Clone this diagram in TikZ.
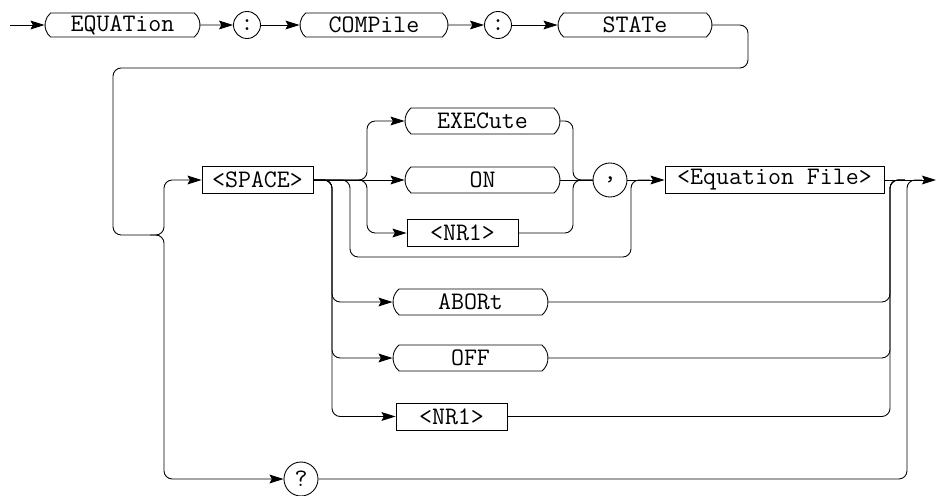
\documentclass[tikz,border=0pt]{standalone}
\usepackage{fontspec}
\usepackage{tikz}
\usetikzlibrary{arrows.meta, shapes.misc, calc}

\begin{document}
\begin{tikzpicture}[x=0.03cm, y=-0.03cm, line width=0.75pt,
  font=\fontsize{21.5}{25}\selectfont\ttfamily,
  keyw/.style={draw, rounded rectangle, rounded rectangle arc length=100, inner sep=0pt, minimum height=0.78cm},
  param/.style={draw, rectangle, inner sep=0pt, minimum height=0.81cm},
  sym/.style={draw, circle, inner sep=0pt},
  flow/.style={rounded corners=7pt},
  arr/.style={-{Stealth[length=12pt, width=7.5pt, inset=2pt]}}]
  \useasboundingbox (0,0) rectangle (937,495);

  \node[keyw, minimum width=4.65cm, minimum height=0.72cm] (equ) at (122.5,25) {EQUATion};
  \node[sym, minimum size=0.81cm] (col1) at (247,25) {:};
  \node[keyw, minimum width=4.44cm, minimum height=0.72cm] (comp) at (374,25) {COMPile};
  \node[sym, minimum size=0.81cm] (col2) at (498,25) {:};
  \node[keyw, minimum width=4.62cm, minimum height=0.72cm] (stat) at (635,25) {STATe};

  \node[param, minimum width=3.33cm] (space) at (257.5,180) {<SPACE>};
  \node[keyw, minimum width=4.65cm] (exec) at (482.5,121) {EXECute};
  \node[keyw, minimum width=4.65cm] (on) at (482.5,180) {ON};
  \node[param, minimum width=3.33cm] (nra) at (462.5,233) {<NR1>};
  \node[sym, minimum size=1.02cm] (comma) at (610,180) {,};
  \node[param, minimum width=6.57cm] (eqf) at (774.5,180) {<Equation File>};

  \node[keyw, minimum width=4.65cm] (abort) at (470.5,302) {ABORt};
  \node[keyw, minimum width=4.65cm] (off) at (470.5,358) {OFF};
  \node[param, minimum width=3.33cm] (nrb) at (451.5,416.5) {<NR1>};
  \node[sym, minimum size=1.02cm] (query) at (301,479) {?};

  \coordinate (in) at (10,25);
  \coordinate (split) at (150,235);
  \coordinate (by) at (650,180);
  \coordinate (m1) at (905,180);
  \coordinate (m2) at (922,180);
  \coordinate (out) at (936,180);

  \draw[arr] (in) -- (equ.west);
  \draw[arr] (equ) -- (col1);
  \draw[arr] (col1) -- (comp);
  \draw[arr] (comp) -- (col2);
  \draw[arr] (col2) -- (stat);
  \draw[flow, arr] (stat.east) -- (748,25) -- (748,68) -- (113,68) -- (113,235) -- (164,235) -- (164,180) -- (space.west);
  \draw[flow, arr] (split) -- (164,235) -- (164,479) -- (query.west);

  \draw[arr] (space.east) -- (on.west);
  \draw[flow, arr] (space.east) -- (367,180) -- (367,121) -- (exec.west);
  \draw[flow, arr] (space.east) -- (367,180) -- (367,233) -- (nra.west);
  \draw[flow] (space.east) -- (350,180) -- (350,257) -- (631,257) -- (631,180) -- (by);
  \draw[flow, arr] (space.east) -- (332,180) -- (332,302) -- (abort.west);
  \draw[flow, arr] (space.east) -- (332,180) -- (332,358) -- (off.west);
  \draw[flow, arr] (space.east) -- (332,180) -- (332,416.5) -- (nrb.west);

  \draw[flow] (exec.east) -- (573,121) -- (573,180) -- (comma.west);
  \draw (on.east) -- (comma.west);
  \draw[flow] (nra.east) -- (573,233) -- (573,180) -- (comma.west);
  \draw[arr] (comma.east) -- (eqf.west);
  \draw[arr] (eqf.east) -- (out);

  \draw[flow] (abort.east) -- (890,302) -- (890,180) -- (m1);
  \draw[flow] (off.east) -- (890,358) -- (890,180) -- (m1);
  \draw[flow] (nrb.east) -- (890,416.5) -- (890,180) -- (m1);
  \draw[flow] (query.east) -- (907,479) -- (907,180) -- (m2);
\end{tikzpicture}
\end{document}
